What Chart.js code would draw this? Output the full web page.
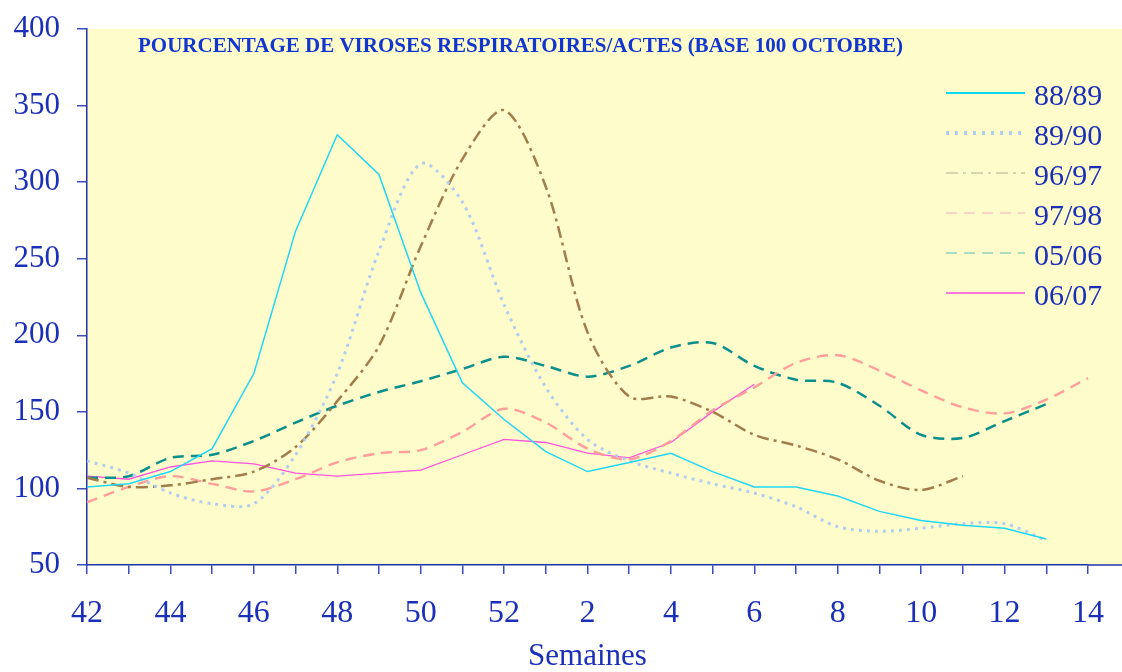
<!DOCTYPE html>
<html>
<head>
<meta charset="utf-8">
<script src="https://cdn.jsdelivr.net/npm/chart.js@4/dist/chart.umd.min.js"></script>
<style>
  html, body { margin: 0; padding: 0; background: #fff; }
  #wrap { width: 1122px; height: 672px; }
</style>
</head>
<body>
<div id="wrap"><canvas id="c" width="1122" height="672"></canvas></div>
<script>
// semaines 42..52 puis 1..14
const weeks = ['42','43','44','45','46','47','48','49','50','51','52','1','2','3','4','5','6','7','8','9','10','11','12','13','14'];
const yTicks = [50, 100, 150, 200, 250, 300, 350, 400];

const s8889 = [101,103,111,126,175,268,331,305,228,169,145,124,111,117,123,111,101,101,95,85,79,76,74,67,null];
const s8990 = [118,110,97,90,90,122,175,255,312,287,220,166,132,118,110,103,97,88,75,72,74,77,77,66,null];
const s9697 = [107,101,102,106,111,127,157,193,258,315,347,297,202,160,160,150,135,128,119,105,99,108,null,null,null];
const s9798 = [91,101,108,103,98,106,117,123,125,137,152,143,126,119,131,151,166,182,187,177,164,153,149,158,172];
const s0506 = [107,108,120,122,131,143,154,163,170,178,186,180,173,180,192,195,180,171,169,154,135,133,144,155,null];
const s0607 = [108,106,114,118,116,110,108,110,112,122,132,130,123,120,130,150,168,null,null,null,null,null,null,null,null];

const BLUE = '#1b2fb8';
const FONT = 'Liberation Serif';

const series = [
  { label: '88/89', data: s8889, color: '#1fd6f5', legend: '#10d8f0', width: 1.5, dash: [], tension: 0 },
  { label: '89/90', data: s8990, color: '#b2cdf0', legend: '#b2cdf0', width: 3, dash: [3, 5], tension: 0.3, lwLegend: 4, dashLegend: [3, 6] },
  { label: '96/97', data: s9697, color: '#a07d4a', legend: '#ddd2ae', width: 2.5, dash: [12, 5, 3, 5], tension: 0.3 },
  { label: '97/98', data: s9798, color: '#ff9e9a', legend: '#f8d4c4', width: 2.4, dash: [11, 7], tension: 0.3 },
  { label: '05/06', data: s0506, color: '#0a8f8c', legend: '#acdcc0', width: 2.5, dash: [11, 7], tension: 0.3 },
  { label: '06/07', data: s0607, color: '#ff55dd', legend: '#ff77dd', width: 1.3, dash: [], tension: 0 }
];

const bgPlugin = {
  id: 'bg',
  beforeDraw(chart) {
    const { ctx, chartArea: a } = chart;
    ctx.save();
    ctx.fillStyle = '#fffccb';
    ctx.fillRect(a.left, a.top, chart.width - a.left, a.bottom - a.top);
    ctx.restore();
  }
};

const decoPlugin = {
  id: 'deco',
  afterDraw(chart) {
    const { ctx, chartArea: a } = chart;
    ctx.save();
    // prolongement de l'axe des x
    ctx.strokeStyle = '#2233aa';
    ctx.lineWidth = 1.5;
    ctx.beginPath();
    ctx.moveTo(a.right, a.bottom);
    ctx.lineTo(chart.width, a.bottom);
    ctx.stroke();

    // titre
    ctx.fillStyle = '#1236d0';
    ctx.font = 'bold 21px "' + FONT + '"';
    ctx.textBaseline = 'alphabetic';
    ctx.textAlign = 'left';
    ctx.fillText('POURCENTAGE DE VIROSES RESPIRATOIRES/ACTES (BASE 100 OCTOBRE)', 138, 52);

    // légende
    const x0 = 946, x1 = 1025, y0 = 93, dy = 40;
    series.forEach((s, i) => {
      const y = y0 + i * dy;
      ctx.strokeStyle = s.legend;
      ctx.lineWidth = s.lwLegend || 2;
      ctx.setLineDash(s.dashLegend || (s.dash.length ? s.dash : []));
      ctx.beginPath();
      ctx.moveTo(x0, y);
      ctx.lineTo(x1, y);
      ctx.stroke();
      ctx.setLineDash([]);
      ctx.fillStyle = BLUE;
      ctx.font = '30px "' + FONT + '"';
      ctx.fillText(s.label, 1034, y + 12);
    });
    ctx.restore();
  }
};

new Chart(document.getElementById('c'), {
  type: 'line',
  data: {
    labels: weeks,
    datasets: series.map(s => ({
      label: s.label,
      data: s.data,
      borderColor: s.color,
      borderWidth: s.width,
      borderDash: s.dash,
      tension: s.tension,
      pointRadius: 0,
      fill: false,
      spanGaps: false
    }))
  },
  options: {
    responsive: false,
    animation: false,
    layout: { padding: { top: 29, right: 34, left: 0, bottom: 0 } },
    plugins: { legend: { display: false }, tooltip: { enabled: false } },
    scales: {
      x: {
        offset: false,
        afterFit: s => { s.height = 107; s.paddingLeft = 0; s.paddingRight = 0; },
        grid: { drawOnChartArea: false, tickLength: 9, color: '#3a4cbf', lineWidth: 1.5 },
        border: { color: '#2233aa', width: 1.5 },
        ticks: {
          autoSkip: false, maxRotation: 0, padding: 20, color: BLUE,
          font: { family: FONT, size: 32 },
          callback: (v, i) => (i % 2 === 0 ? weeks[i] : '')
        },
        title: { display: true, text: 'Semaines', color: BLUE, font: { family: FONT, size: 31, lineHeight: 1 }, padding: { top: 10, bottom: 0 } }
      },
      y: {
        min: yTicks[0], max: yTicks[yTicks.length - 1],
        afterFit: s => { s.width = 87; s.paddingTop = 0; s.paddingBottom = 0; },
        afterBuildTicks: s => { s.ticks = yTicks.map(v => ({ value: v })); },
        grid: { drawOnChartArea: false, tickLength: 10, color: '#3a4cbf', lineWidth: 1.5 },
        border: { color: '#2233aa', width: 1.5 },
        ticks: { padding: 17, color: BLUE, font: { family: FONT, size: 31 } }
      }
    }
  },
  plugins: [bgPlugin, decoPlugin]
});
</script>
</body>
</html>
